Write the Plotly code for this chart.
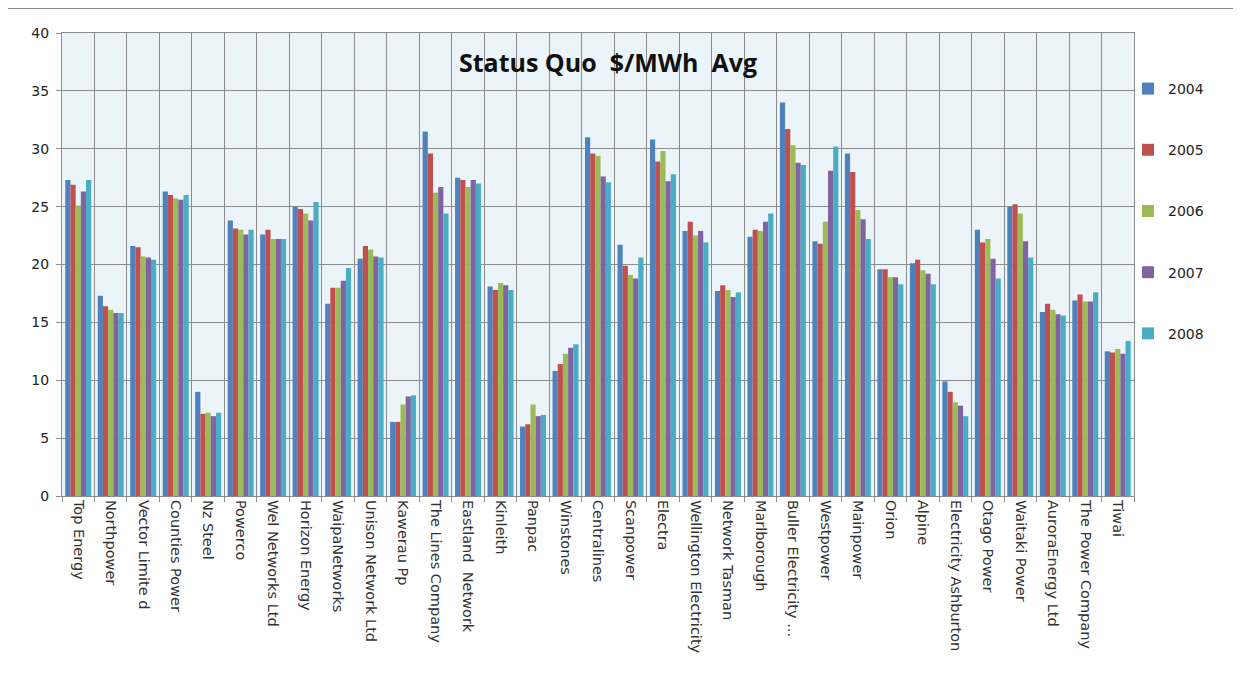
import plotly.graph_objects as go

categories = ["Top Energy", "Northpower", "Vector Limite d", "Counties Power", "Nz Steel",
              "Powerco", "Wel Networks Ltd", "Horizon Energy", "WaipaNetworks",
              "Unison Network Ltd", "Kawerau Pp", "The Lines Company", "Eastland  Network",
              "Kinleith", "Panpac", "Winstones", "Centralines", "Scanpower", "Electra",
              "Wellington Electricity", "Network Tasman", "Marlborough",
              "Buller Electricity ...", "Westpower", "Mainpower", "Orion", "Alpine",
              "Electricity Ashburton", "Otago Power", "Waitaki Power", "AuroraEnergy Ltd",
              "The Power Company", "Tiwai"]

years = ["2004", "2005", "2006", "2007", "2008"]

v2004 = [27.3, 17.3, 21.6, 26.3, 9.0, 23.8, 22.6, 25.0, 16.6, 20.5, 6.4, 31.5, 27.5,
         18.1, 6.0, 10.8, 31.0, 21.7, 30.8, 22.9, 17.7, 22.4, 34.0, 22.0, 29.6, 19.6,
         20.1, 9.9, 23.0, 25.0, 15.9, 16.9, 12.5]
v2005 = [26.9, 16.4, 21.5, 26.0, 7.1, 23.1, 23.0, 24.8, 18.0, 21.6, 6.4, 29.6, 27.3,
         17.8, 6.2, 11.4, 29.6, 19.9, 28.9, 23.7, 18.2, 23.0, 31.7, 21.8, 28.0, 19.6,
         20.4, 9.0, 21.9, 25.2, 16.6, 17.4, 12.4]
v2006 = [25.1, 16.1, 20.7, 25.7, 7.2, 23.0, 22.2, 24.4, 18.0, 21.3, 7.9, 26.2, 26.7,
         18.4, 7.9, 12.3, 29.4, 19.1, 29.8, 22.5, 17.8, 22.9, 30.3, 23.7, 24.7, 18.9,
         19.5, 8.1, 22.2, 24.4, 16.1, 16.8, 12.7]
v2007 = [26.3, 15.8, 20.6, 25.6, 6.9, 22.6, 22.2, 23.8, 18.6, 20.7, 8.6, 26.7, 27.3,
         18.2, 6.9, 12.8, 27.6, 18.8, 27.2, 22.9, 17.2, 23.7, 28.8, 28.1, 23.9, 18.9,
         19.2, 7.8, 20.5, 22.0, 15.7, 16.8, 12.3]
v2008 = [27.3, 15.8, 20.4, 26.0, 7.2, 23.0, 22.2, 25.4, 19.7, 20.6, 8.7, 24.4, 27.0,
         17.8, 7.0, 13.1, 27.1, 20.6, 27.8, 21.9, 17.6, 24.4, 28.6, 30.2, 22.2, 18.3,
         18.3, 6.9, 18.8, 20.6, 15.6, 17.6, 13.4]

series = [v2004, v2005, v2006, v2007, v2008]
colors = ["#4F81BD", "#C0504D", "#9BBB59", "#8064A2", "#4BACC6"]

fig = go.Figure()
for name, vals, col in zip(years, series, colors):
    fig.add_trace(go.Bar(x=categories, y=vals, name=name, legendgroup=name,
                         marker=dict(color=col, line=dict(width=0))))

# page body has an 8px margin; the figure is drawn from (8, 8)
OFF = 8
W, H = 1241 - OFF, 681 - OFF
L, T = 62 - OFF, 33 - OFF
pw, ph = 1134 - 62, 496 - 33
R, B = W - L - pw, H - T - ph

def px_x(p):
    return (p - OFF - L) / pw

def px_y(p):
    return 1 - (p - OFF - T) / ph

fig.update_layout(
    width=W, height=H,
    margin=dict(l=L, r=R, t=T, b=B, pad=0),
    paper_bgcolor="white",
    plot_bgcolor="#EBF5F9",
    barmode="group",
    bargap=0.2,
    bargroupgap=0.0,
    font=dict(family="DejaVu Sans, sans-serif", color="#222222"),
    title=dict(text="<b>Status Quo\u00a0 $/MWh\u00a0 Avg</b>",
               font=dict(family="Open Sans, Noto Sans, sans-serif", size=25, color="#111111"),
               x=px_x(608), xref="paper", xanchor="center",
               y=1 - (63 - OFF) / H, yref="container", yanchor="middle"),
    legend=dict(x=px_x(1128), xanchor="left", y=px_y(73), yanchor="top",
                font=dict(size=14, color="#222222"), tracegroupgap=40,
                itemwidth=30, bgcolor="rgba(0,0,0,0)"),
    xaxis=dict(type="category", tickson="boundaries", showgrid=True,
               gridcolor="#8C8C8C", gridwidth=1, ticks="outside", ticklen=5,
               tickcolor="#8C8C8C", tickangle=90, showline=True, linecolor="#8C8C8C",
               tickfont=dict(size=14.5, color="#333333"), mirror=True,
               range=[-0.5, len(categories) - 0.5]),
    yaxis=dict(range=[0, 40], dtick=5, showgrid=True, gridcolor="#8C8C8C", gridwidth=1,
               ticks="outside", ticklen=5, tickcolor="#8C8C8C", showline=True,
               linecolor="#8C8C8C", mirror=True, zeroline=False, ticklabelstandoff=4,
               tickfont=dict(size=14, color="#222222")),
    shapes=[dict(type="line", xref="paper", yref="paper", x0=px_x(0), x1=px_x(1241),
                 y0=px_y(8.5), y1=px_y(8.5), line=dict(color="#8C8C8C", width=1))],
)

fig.write_html("out.html")
